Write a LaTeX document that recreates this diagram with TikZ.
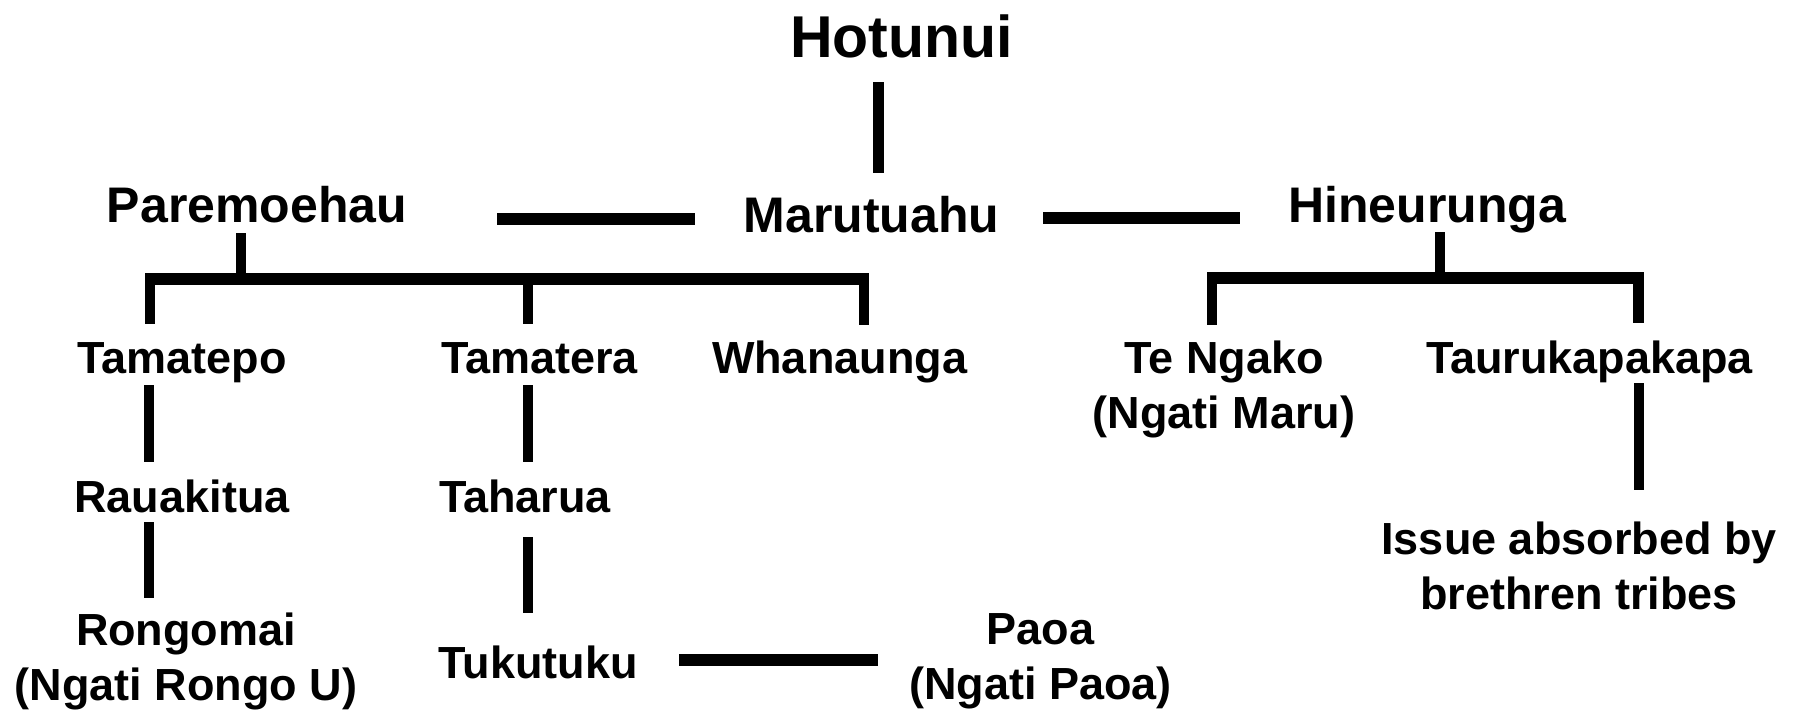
\documentclass[tikz,border=0pt]{standalone}
\usepackage{fontspec}
\setmainfont{Liberation Sans}
\begin{document}
\begin{tikzpicture}[x=1pt,y=-1pt,
  big/.style={font=\fontsize{59}{70}\selectfont\bfseries, inner sep=0pt, anchor=base},
  top/.style={font=\fontsize{50}{60}\selectfont\bfseries, inner sep=0pt, anchor=base},
  lbl/.style={font=\fontsize{45}{55}\selectfont\bfseries, inner sep=0pt, anchor=base},
  multi/.style={font=\fontsize{45}{55}\selectfont\bfseries, inner sep=0pt, anchor=north, align=center},
  vline/.style={line width=10.5pt, line cap=butt},
  hline/.style={line width=12pt, line cap=butt}]
\useasboundingbox[fill=white] (0,0) rectangle (1801,713);

% names
\node[big] (hotunui) at (901.5,57) {Hotunui};
\node[top] (paremoehau) at (257,222) {Paremoehau};
\node[top] (marutuahu) at (871.5,232) {Marutuahu};
\node[top] (hineurunga) at (1427,222) {Hineurunga};

\node[lbl] (tamatepo) at (182,373) {Tamatepo};
\node[lbl] (tamatera) at (539.5,373) {Tamatera};
\node[lbl] (whanaunga) at (839.5,373) {Whanaunga};
\node[multi] (tengako) at (1224,341) {Te Ngako\\(Ngati Maru)};
\node[lbl] (tauru) at (1589.5,373) {Taurukapakapa};

\node[lbl] (rauakitua) at (182,512) {Rauakitua};
\node[lbl] (taharua) at (525,512) {Taharua};
\node[multi] (issue) at (1579,522) {Issue absorbed by\\brethren tribes};

\node[multi] (rongomai) at (186,613) {Rongomai\\(Ngati Rongo U)};
\node[lbl] (tukutuku) at (538,678) {Tukutuku};
\node[multi] (paoa) at (1040.5,613) {Paoa\\(Ngati Paoa)};

% connector end points
\coordinate (hotB) at (878.5,82);
\coordinate (maruT) at (878.5,173);
\coordinate (pdL) at (497,218.5);
\coordinate (pdR) at (695,218.5);
\coordinate (hdL) at (1043,218);
\coordinate (hdR) at (1240,218);

\coordinate (pareB) at (241,233);
\coordinate (pareJ) at (241,279);
\coordinate (lbarL) at (145,279);
\coordinate (lbarR) at (869,279);
\coordinate (tpT) at (150,273);
\coordinate (tpB) at (150,324);
\coordinate (trT) at (528,279);
\coordinate (trB) at (528,324);
\coordinate (whT) at (864,273);
\coordinate (whB) at (864,325);

\coordinate (hineB) at (1440,232);
\coordinate (hineJ) at (1440,277.5);
\coordinate (rbarL) at (1207,277.5);
\coordinate (rbarR) at (1644,277.5);
\coordinate (tnT) at (1212,272);
\coordinate (tnB) at (1212,325);
\coordinate (tkT) at (1638.5,272);
\coordinate (tkB) at (1638.5,323);

\coordinate (tp2T) at (149,385);
\coordinate (tp2B) at (149,462);
\coordinate (tr2T) at (528,385);
\coordinate (tr2B) at (528,462);
\coordinate (tk2T) at (1639,383);
\coordinate (tk2B) at (1639,490);

\coordinate (ra2T) at (149,522);
\coordinate (ra2B) at (149,598);
\coordinate (th2T) at (528,537);
\coordinate (th2B) at (528,613);

\coordinate (tuL) at (679,660);
\coordinate (tuR) at (878,660);

% connectors
\draw[vline] (hotB) -- (maruT);
\draw[hline] (pdL) -- (pdR);
\draw[hline] (hdL) -- (hdR);

\draw[vline] (pareB) -- (pareJ);
\draw[hline] (lbarL) -- (lbarR);
\draw[vline] (tpT) -- (tpB);
\draw[vline] (trT) -- (trB);
\draw[vline] (whT) -- (whB);

\draw[vline] (hineB) -- (hineJ);
\draw[hline] (rbarL) -- (rbarR);
\draw[vline] (tnT) -- (tnB);
\draw[vline] (tkT) -- (tkB);

\draw[vline] (tp2T) -- (tp2B);
\draw[vline] (tr2T) -- (tr2B);
\draw[vline] (tk2T) -- (tk2B);
\draw[vline] (ra2T) -- (ra2B);
\draw[vline] (th2T) -- (th2B);

\draw[hline] (tuL) -- (tuR);
\end{tikzpicture}
\end{document}
